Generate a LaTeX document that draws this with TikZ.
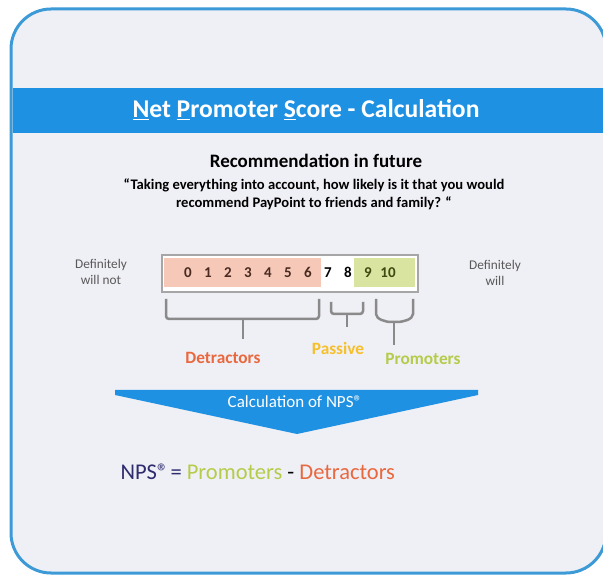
\documentclass[tikz,border=0pt]{standalone}
\usepackage{fontspec}
\setmainfont{Carlito}
\usepackage{xcolor}
\usepackage{tikz}
\usetikzlibrary{matrix}

\definecolor{panelbg}{HTML}{EFEFF6}
\definecolor{frameblue}{HTML}{3C9AD6}
\definecolor{bannerblue}{HTML}{1F91E2}
\definecolor{detfill}{HTML}{F5C8B8}
\definecolor{profill}{HTML}{D8E4A0}
\definecolor{detcol}{HTML}{E9683E}
\definecolor{pascol}{HTML}{F6C02C}
\definecolor{procol}{HTML}{B5CC4A}
\definecolor{detnum}{HTML}{4A2A20}
\definecolor{pronum}{HTML}{3E4A10}
\definecolor{bracketgray}{HTML}{8A8A8A}
\definecolor{boxgray}{HTML}{A6A6A6}
\definecolor{sidegray}{HTML}{595959}
\definecolor{npsnavy}{HTML}{2F2C6E}

\begin{document}
\begin{tikzpicture}[x=1pt, y=-1pt,
		bracket/.style={draw=bracketgray, line width=2.5pt, rounded corners=3pt},
		group/.style={font=\bfseries\fontsize{17.3}{17}\selectfont},
		side/.style={align=center, text=sidegray, font=\fontsize{13.3}{15.5}\selectfont}]
	\useasboundingbox (0,0) rectangle (603,577);
	% panel and title banner
	\draw[line width=3pt, draw=frameblue, fill=panelbg, rounded corners=40pt] (11,9) rectangle (606,573);
	\fill[bannerblue] (12.5,88) rectangle (606,133);
	\node[text=white, font=\bfseries\fontsize{25.6}{26}\selectfont] (title) at (306,110)
		{\underline{N}et \underline{P}romoter \underline{S}core - Calculation};
	% question
	\node[font=\bfseries\fontsize{19}{19}\selectfont] (heading) at (316,161) {Recommendation in future};
	\node[align=center, font=\bfseries\fontsize{14.6}{18}\selectfont] (question) at (314,194)
		{“Taking everything into account, how likely is it that you would\\recommend PayPoint to friends and family? “};
	% 0-10 scale
	\draw[boxgray, line width=1.2pt, fill=white] (162,255) rectangle (418,292);
	\fill[detfill] (164,258) rectangle (321,287);
	\fill[profill] (354,258) rectangle (415,287);
	\matrix(scale)[matrix of nodes, nodes={minimum width=20pt, inner sep=0pt, font=\bfseries\fontsize{15}{15}\selectfont}, column sep=0pt] at (288,272){
		|[text=detnum]|0 &|[text=detnum]|1 &|[text=detnum]|2 &|[text=detnum]|3 &|[text=detnum]|4 &|[text=detnum]|5 &|[text=detnum]|6 &|[text=black]|7 &|[text=black]|8 &|[text=pronum]|9 &|[text=pronum]|10 \\
	};
	\node[side] (willnot) at (101,272) {Definitely\\will not};
	\node[side] (will) at (495,273) {Definitely\\will};
	% brackets
	\draw[bracket] (166,299) -- (166,319) -- (319,319) -- (319,299);
	\draw[bracket] (243,319) -- (243,339);
	\draw[bracket] (331,302) -- (331,314) -- (363,314) -- (363,302);
	\draw[bracket] (347,314) -- (347,327);
	\draw[bracket] (376,299) -- (376,311) to[out=-90, in=180] (394,322) to[out=0, in=-90] (413,311) -- (413,299);
	\draw[bracket] (394,322) -- (394,345);
	\node[group, text=detcol] (detractors) at (223,358) {Detractors};
	\node[group, text=pascol] (passive) at (338,348) {Passive};
	\node[group, text=procol] (promoters) at (423,359) {Promoters};
	% calculation arrow
	\fill[bannerblue] (115,390) -- (478,390) -- (478,395) -- (297,434) -- (115,395) -- cycle;
	\node[text=white, font=\fontsize{17}{17}\selectfont] (calc) at (295,402) {Calculation of NPS\textregistered};
	\node[anchor=base west, font=\fontsize{22.5}{22}\selectfont] (nps) at (117,479)
		{\textcolor{npsnavy}{NPS\textregistered\kern-3pt} \textcolor{npsnavy}{=} \textcolor{procol}{Promoters} - \textcolor{detcol}{Detractors}};
\end{tikzpicture}
\end{document}
